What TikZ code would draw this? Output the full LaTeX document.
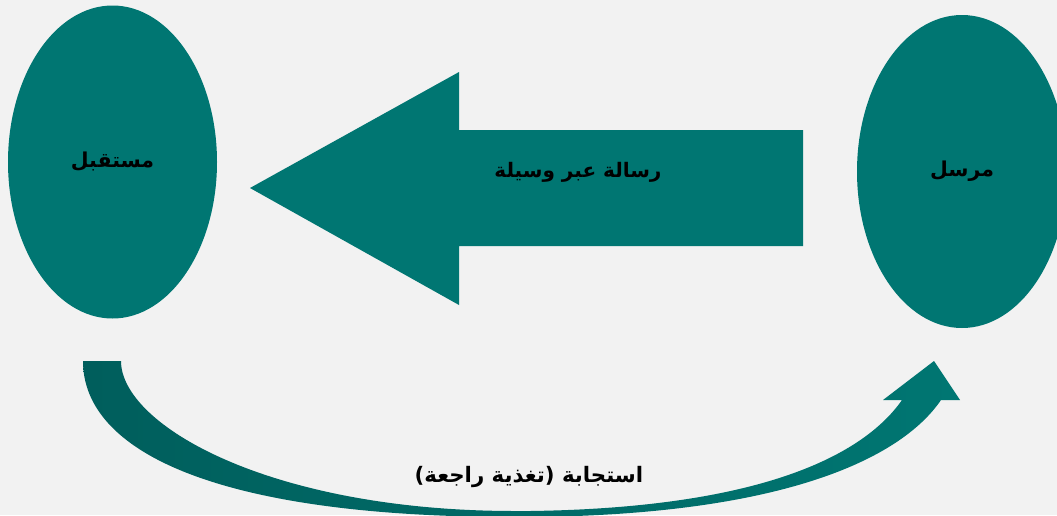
\documentclass[tikz,border=0pt]{standalone}
\usepackage{fontspec}
\usetikzlibrary{shapes.geometric}
\TeXXeTstate=1
\newfontfamily\arabicfont[Script=Arabic]{DejaVu Sans}
\definecolor{bgc}{HTML}{F2F2F2}
\definecolor{tealc}{HTML}{007672}
\definecolor{tealdk}{HTML}{005E5C}
\tikzset{
  party/.style={ellipse, fill=tealc, inner sep=0pt, minimum width=209pt, minimum height=313pt, font=\arabicfont\bfseries\fontsize{20.5}{24}\selectfont, text=black},
  lbl/.style={font=\arabicfont\bfseries\fontsize{20}{24}\selectfont, text=black, inner sep=0pt}
}
\begin{document}
\begin{tikzpicture}[x=1pt,y=-1pt]
\useasboundingbox (0,0) rectangle (1057,515);
\fill[bgc] (0,0) rectangle (1057,515);
\begin{scope}
\clip (0,0) rectangle (1057,515);
\node[party] (recv) at (112.5,162) {\beginR مستقبل\endR};
\node[party, minimum width=210pt] (send) at (962,171.5) {\beginR مرسل\endR};
\fill[tealc] (803,130) -- (459,130) -- (459,72) -- (250,188) -- (459,305) -- (459,246) -- (803,246) -- cycle;
\node[lbl] (msg) at (578,172) {\beginR رسالة عبر وسيلة\endR};
\shade[left color=tealdk, right color=tealc]
  (83,361) .. controls (83,451) and (215,517) .. (515,517)
  -- (530,517) .. controls (780,515) and (900,460) .. (941,400)
  -- (960,400) -- (934,361) -- (883,400) -- (902,400)
  .. controls (860,460) and (750,508) .. (530,511)
  -- (515,511) .. controls (270,511) and (121,425) .. (121,361) -- cycle;
\node[lbl, font=\arabicfont\bfseries\fontsize{21.3}{25}\selectfont] (resp) at (529,477) {\beginR استجابة (تغذية راجعة)\endR};
\end{scope}
\end{tikzpicture}
\end{document}
